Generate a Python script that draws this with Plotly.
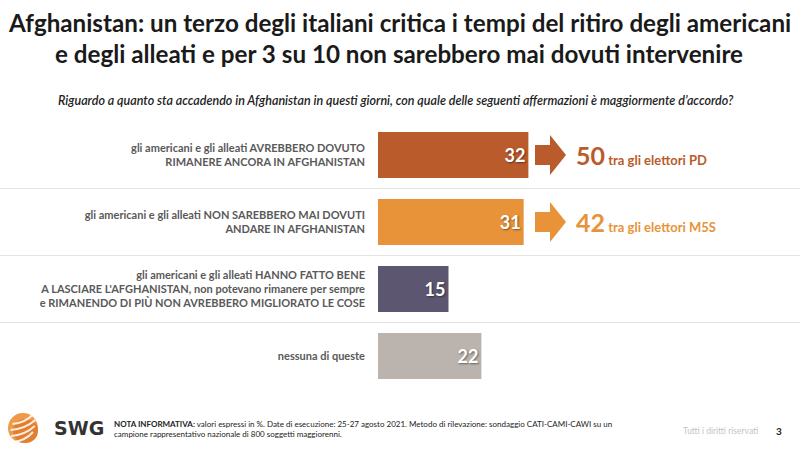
import plotly.graph_objects as go

# ---------------- data ----------------
labels = [
    "gli americani e gli alleati AVREBBERO DOVUTO<br>RIMANERE ANCORA IN AFGHANISTAN",
    "gli americani e gli alleati NON SAREBBERO MAI DOVUTI<br>ANDARE IN AFGHANISTAN",
    "gli americani e gli alleati HANNO FATTO BENE<br>A LASCIARE L'AFGHANISTAN, non potevano rimanere per sempre<br>e RIMANENDO DI PIÙ NON AVREBBERO MIGLIORATO LE COSE",
    "nessuna di queste",
]
values = [32, 31, 15, 22]
bar_colors = ["#B95B2B", "#E8933A", "#5C5670", "#BAB3AE"]

callout_values = [50, 42]
callout_texts = ["tra gli elettori PD", "tra gli elettori M5S"]
callout_colors = ["#B95B2B", "#E8933A"]

title_lines = ["Afghanistan: un terzo degli italiani critica i tempi del ritiro degli americani",
               "e degli alleati e per 3 su 10 non sarebbero mai dovuti intervenire"]
subtitle_text = ("Riguardo a quanto sta accadendo in Afghanistan in questi giorni, con quale delle "
                 "seguenti affermazioni è maggiormente d’accordo?")
note_text = ("<b>NOTA INFORMATIVA:</b> valori espressi in %. Date di esecuzione: 25-27 agosto 2021. "
             "Metodo di rilevazione: sondaggio CATI-CAMI-CAWI su un<br>"
             "campione rappresentativo nazionale di 800 soggetti maggiorenni.")

W, H = 800, 450
def px(x):
    return x / W
def py(y):
    return 1 - y / H

FONT = "Lato"

fig = go.Figure()
fig.add_trace(go.Bar(
    x=values, y=labels, orientation="h",
    marker=dict(color=bar_colors, line=dict(width=0)),
    width=0.69,
    text=[str(v) for v in values],
    textposition="inside", insidetextanchor="end",
    textfont=dict(family=FONT, size=18, color="white", weight=700,
                  shadow="1px 1px 2px rgba(0,0,0,0.45)"),
    constraintext="none",
    hoverinfo="skip",
))

shapes = []
# separators between rows
for yv in [0.5, 1.5, 2.5]:
    shapes.append(dict(type="line", xref="paper", yref="y", x0=0, x1=1, y0=yv, y1=yv,
                       line=dict(color="#E3E3E3", width=1.2), layer="below"))

# arrows (fixed pixel position, one per callout row)
row_centers_px = [155, 222]
for i, c in enumerate(callout_colors):
    cy = row_centers_px[i]
    pts = [(535, cy - 10), (550, cy - 10), (550, cy - 20), (566, cy),
           (550, cy + 20), (550, cy + 10), (535, cy + 10)]
    path = "M " + " L ".join(f"{px(x):.5f},{py(y):.5f}" for x, y in pts) + " Z"
    shapes.append(dict(type="path", xref="paper", yref="paper", path=path,
                       fillcolor=c, line=dict(width=0)))

# logo (SWG sphere)
cx, cy, r = 23, 428, 15
shapes.append(dict(type="circle", xref="paper", yref="paper",
                   x0=px(cx - r), x1=px(cx + r), y0=py(cy + r), y1=py(cy - r),
                   fillcolor="#EE9A48", line=dict(width=0)))
shapes.append(dict(type="circle", xref="paper", yref="paper",
                   x0=px(cx - r + 5), x1=px(cx + r), y0=py(cy + r), y1=py(cy - r + 6),
                   fillcolor="#E27F2E", line=dict(width=0)))
for k, dy in enumerate([-8, -2, 4, 10]):
    x0, y0 = cx - r + 2 + abs(dy) * 0.3, cy + dy + 4
    x1, y1 = cx + r - 2 - abs(dy) * 0.3, cy + dy - 6
    path = (f"M {px(x0):.5f},{py(y0):.5f} Q {px((x0 + x1) / 2 + 2):.5f},{py((y0 + y1) / 2 + 4):.5f} "
            f"{px(x1):.5f},{py(y1):.5f}")
    shapes.append(dict(type="path", xref="paper", yref="paper", path=path,
                       line=dict(color="rgba(255,255,255,0.85)", width=2)))

annotations = []
for i, (v, t, c) in enumerate(zip(callout_values, callout_texts, callout_colors)):
    annotations.append(dict(
        xref="paper", yref="y", x=px(574), y=labels[i], xanchor="left", yanchor="middle",
        text=f"<b><span style='font-size:25px'>{v}</span> {t}</b>",
        showarrow=False, font=dict(family=FONT, size=13, color=c)))

for line, anchor in zip(title_lines, ["bottom", "top"]):
    annotations.append(dict(xref="paper", yref="paper", x=px(399), y=py(38),
                            xanchor="center", yanchor=anchor, borderpad=0,
                            text=f"<b>{line}</b>", showarrow=False,
                            font=dict(family=FONT, size=24.2, color="#1a1a1a")))

annotations += [
    dict(xref="paper", yref="paper", x=px(396), y=py(100), xanchor="center", yanchor="middle",
         text=f"<i>{subtitle_text}</i>", showarrow=False,
         font=dict(family=FONT, size=12.5, color="#222222", weight=600)),
    dict(xref="paper", yref="paper", x=px(52), y=py(428), xanchor="left", yanchor="middle",
         text="<b>SWG</b>", showarrow=False,
         font=dict(family="DejaVu Sans", size=19, color="#333333")),
    dict(xref="paper", yref="paper", x=px(112), y=py(429), xanchor="left", yanchor="middle",
         text=note_text, showarrow=False, align="left",
         font=dict(family=FONT, size=8, color="#222222")),
    dict(xref="paper", yref="paper", x=px(760), y=py(431), xanchor="right", yanchor="middle",
         text="Tutti i diritti riservati", showarrow=False,
         font=dict(family=FONT, size=8.5, color="#C4C4C4")),
    dict(xref="paper", yref="paper", x=px(779), y=py(431), xanchor="center", yanchor="middle",
         text="<b>3</b>", showarrow=False,
         font=dict(family=FONT, size=10, color="#222222")),
]

fig.update_layout(
    width=W, height=H,
    margin=dict(l=0, r=0, t=0, b=0),
    paper_bgcolor="white", plot_bgcolor="white",
    showlegend=False,
    shapes=shapes, annotations=annotations,
    xaxis=dict(domain=[px(378), 1.0], range=[0, 89.8], visible=False, fixedrange=True),
    yaxis=dict(domain=[py(389.5), py(121.5)], type="category",
               categoryorder="array", categoryarray=labels,
               range=[3.5, -0.5], showgrid=False, zeroline=False, showline=False,
               ticks="", ticklabelstandoff=12, automargin=False, fixedrange=True,
               tickfont=dict(family=FONT, size=11, color="#595959", weight=700)),
    font=dict(family=FONT),
)

fig.write_html("out.html", config={"displayModeBar": False},
               post_script="document.body.style.margin='0';document.body.style.overflow='hidden';")
